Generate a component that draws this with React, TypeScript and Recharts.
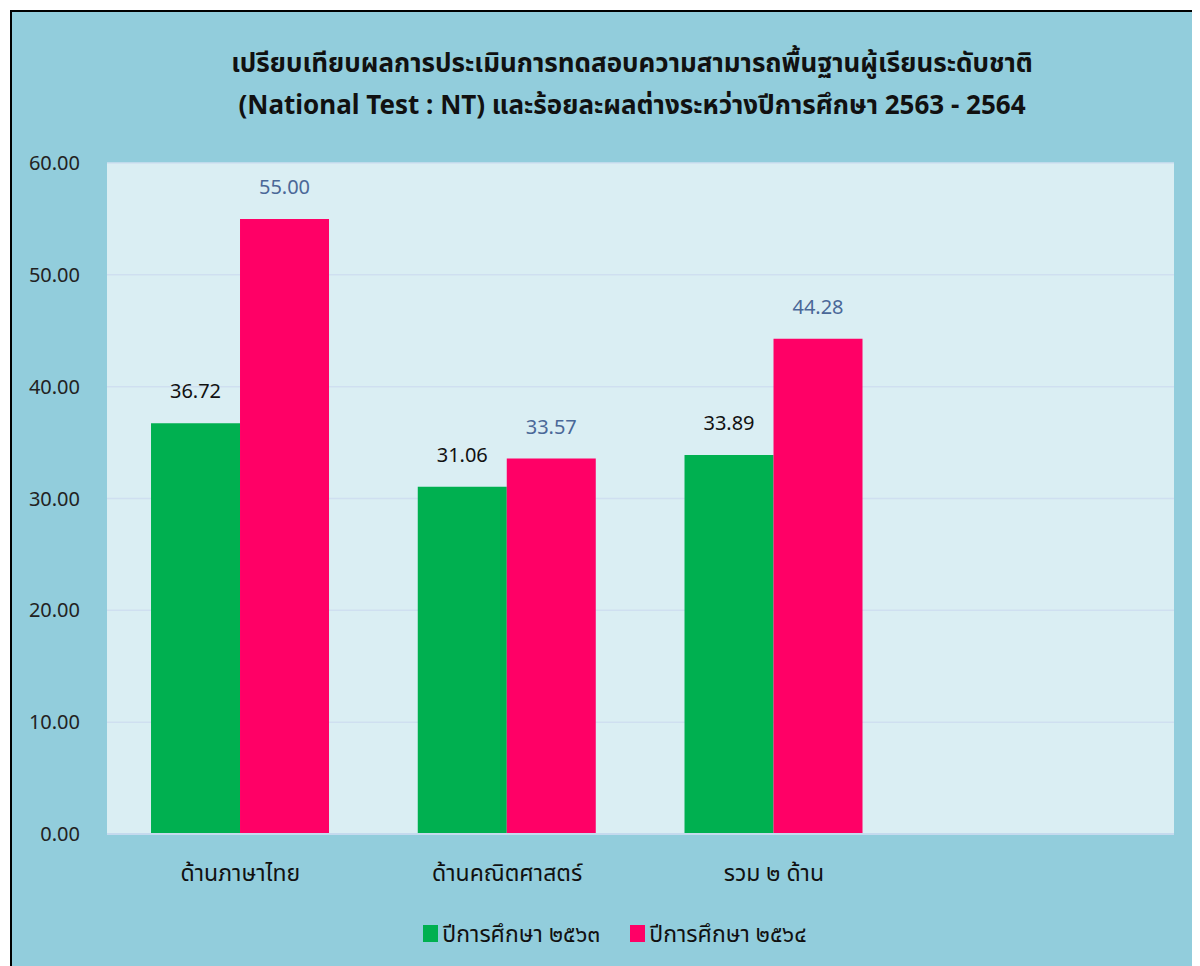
import { BarChart, Bar, XAxis, YAxis, CartesianGrid, Legend, LabelList } from 'recharts'

const categories = ['ด้านภาษาไทย', 'ด้านคณิตศาสตร์', 'รวม ๒ ด้าน', '']
const year2563 = [36.72, 31.06, 33.89, null]
const year2564 = [55.0, 33.57, 44.28, null]
const yTicks = [0, 10, 20, 30, 40, 50, 60]

const data = categories.map((name, i) => ({ name, y63: year2563[i], y64: year2564[i] }))

const FONT = "'Noto Sans', 'Noto Sans Thai', Tahoma, sans-serif"

const legendItems = [
    { label: 'ปีการศึกษา ๒๕๖๓', color: '#00B050' },
    { label: 'ปีการศึกษา ๒๕๖๔', color: '#FF0066' },
]

function ChartLegend() {
    return (
        <div style={{ display: 'flex', justifyContent: 'center', gap: 30, fontFamily: FONT, fontSize: 23, lineHeight: '30px', color: '#111' }}>
            {legendItems.map(item => (
                <div key={item.label} style={{ display: 'flex', alignItems: 'center', gap: 4 }}>
                    <span style={{ width: 15, height: 17, background: item.color, display: 'inline-block' }} />
                    <span>{item.label}</span>
                </div>
            ))}
        </div>
    )
}

export default function App() {
    return (
        <div style={{ position: 'relative', width: 1192, height: 958, overflow: 'hidden' }}>
            <div style={{ position: 'absolute', left: 2, top: 2, width: 1240, height: 1000, border: '2px solid #000', background: '#92CDDC' }}>
                <div style={{ position: 'absolute', left: 0, top: 29, width: 1240, textAlign: 'center', fontFamily: FONT, fontWeight: 'bold', fontSize: 26, lineHeight: '42px', color: '#111' }}>
                    <div>เปรียบเทียบผลการประเมินการทดสอบความสามารถพื้นฐานผู้เรียนระดับชาติ</div>
                    <div>(National Test : NT) และร้อยละผลต่างระหว่างปีการศึกษา 2563 - 2564</div>
                </div>
                <div style={{ position: 'absolute', left: 0, top: 0 }}>
                    <BarChart width={1230} height={950} data={data} barGap={0} barCategoryGap="16.5%"
                        margin={{ top: 151, right: 68, bottom: 0, left: 0 }}>
                        <CartesianGrid vertical={false} fill="#DAEEF3" stroke="#CFDFF0" strokeWidth={1.5} />
                        <XAxis dataKey="name" tickLine={false} axisLine={{ stroke: '#C5DAEE', strokeWidth: 2 }}
                            height={98} tickMargin={25}
                            tick={{ fill: '#111', fontSize: 23, fontFamily: FONT }} />
                        <YAxis domain={[0, 60]} ticks={yTicks} interval={0} width={95} tickLine={false} axisLine={false}
                            tickMargin={21} tickFormatter={(v: number) => v.toFixed(2)}
                            tick={{ fill: '#222', fontSize: 20, fontFamily: FONT }} />
                        <Legend verticalAlign="bottom" height={30} wrapperStyle={{ bottom: 14, left: 22 }} content={() => <ChartLegend />} />
                        <Bar dataKey="y63" fill="#00B050" isAnimationActive={false}>
                            <LabelList dataKey="y63" position="top" offset={25}
                                formatter={(v: any) => (v == null ? '' : Number(v).toFixed(2))}
                                style={{ fill: '#111', fontSize: 20, fontFamily: FONT }} />
                        </Bar>
                        <Bar dataKey="y64" fill="#FF0066" isAnimationActive={false}>
                            <LabelList dataKey="y64" position="top" offset={25}
                                formatter={(v: any) => (v == null ? '' : Number(v).toFixed(2))}
                                style={{ fill: '#4A6898', fontSize: 20, fontFamily: FONT }} />
                        </Bar>
                    </BarChart>
                </div>
            </div>
        </div>
    )
}
